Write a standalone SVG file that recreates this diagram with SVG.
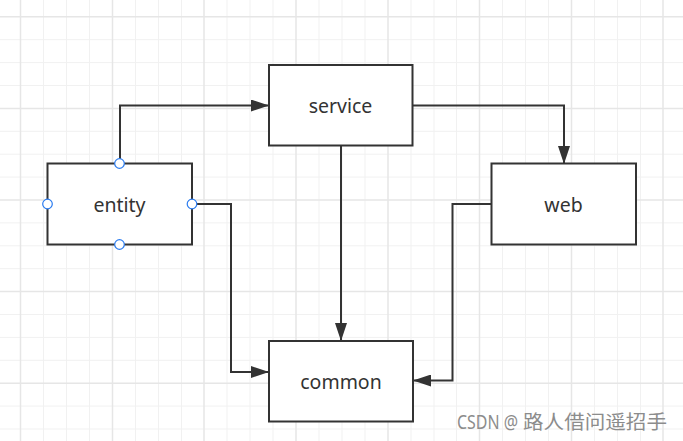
<svg xmlns="http://www.w3.org/2000/svg" width="683" height="441" viewBox="0 0 683 441">
<style>
.minor{stroke:#f1f1f1;stroke-width:1;fill:none}
.major{stroke:#e6e6e6;stroke-width:1.5;fill:none}
.box{fill:#ffffff;stroke:#333333;stroke-width:2}
.lbl{font-family:"Noto Sans","Liberation Sans",sans-serif;font-size:19.5px;fill:#333333;text-anchor:middle}
.conn{fill:none;stroke:#333333;stroke-width:2}
.handle{fill:#ffffff;stroke:#2b7cf0;stroke-width:1.2}
.wm{font-family:"Noto Sans","Liberation Sans","Noto Sans CJK SC",sans-serif;font-size:19px;fill:#8c8c8c}
</style>
<defs>
<marker id="arr" markerUnits="userSpaceOnUse" markerWidth="18" markerHeight="12" refX="17" refY="6" orient="auto">
<path d="M0,0 L18,6 L0,12 z" fill="#333333"/>
</marker>
</defs>
<rect width="683" height="441" fill="#ffffff"/>
<g id="grid">
<path class="minor" d="M43.5,0V441M66.5,0V441M89.5,0V441M135.5,0V441M158.5,0V441M181.5,0V441M227,0V441M250,0V441M273,0V441M319,0V441M342,0V441M365,0V441M411,0V441M434,0V441M456.5,0V441M502.5,0V441M525.5,0V441M548.5,0V441M594.5,0V441M617.5,0V441M640.5,0V441"/>
<path class="minor" d="M0,39.7H683M0,62.6H683M0,85.5H683M0,131.3H683M0,154.2H683M0,177.1H683M0,222.9H683M0,245.8H683M0,268.7H683M0,314.5H683M0,337.4H683M0,360.3H683M0,406.1H683M0,429H683"/>
<path class="major" d="M20.5,0V441M112.5,0V441M204,0V441M296,0V441M388,0V441M479.5,0V441M571.5,0V441M663,0V441"/>
<path class="major" d="M0,16.8H683M0,108.4H683M0,200H683M0,291.6H683M0,383.2H683"/>
</g>
<g id="connectors">
<path class="conn" d="M120,163 V105.5 H268" marker-end="url(#arr)"/>
<path class="conn" d="M413,105.5 H564 V163" marker-end="url(#arr)"/>
<path class="conn" d="M341,146 V340" marker-end="url(#arr)"/>
<path class="conn" d="M192,204 H231 V372 H268" marker-end="url(#arr)"/>
<path class="conn" d="M491,204 H452.5 V380.5 H414" marker-end="url(#arr)"/>
</g>
<g id="service">
<rect class="box" x="269" y="65" width="143.5" height="80.5"/>
<text class="lbl" x="340.5" y="112.5">service</text>
</g>
<g id="entity">
<rect class="box" x="47.5" y="163.5" width="144.5" height="81"/>
<text class="lbl" x="119.5" y="211.5">entity</text>
<circle class="handle" cx="119.5" cy="163.5" r="4.8"/>
<circle class="handle" cx="47.5" cy="204" r="4.8"/>
<circle class="handle" cx="192" cy="204" r="4.8"/>
<circle class="handle" cx="119.5" cy="244.5" r="4.8"/>
</g>
<g id="web">
<rect class="box" x="491.5" y="163.5" width="144.5" height="81"/>
<text class="lbl" x="563.5" y="211.5">web</text>
</g>
<g id="common">
<rect class="box" x="269" y="341" width="144" height="80.5"/>
<text class="lbl" x="341" y="388.5">common</text>
</g>
<g id="watermark">
<text class="wm" x="457" y="428.5" textLength="61" lengthAdjust="spacingAndGlyphs">CSDN @</text>
<text class="wm" x="523" y="428.5" textLength="144" lengthAdjust="spacingAndGlyphs">路人借问遥招手</text>
</g>
</svg>
